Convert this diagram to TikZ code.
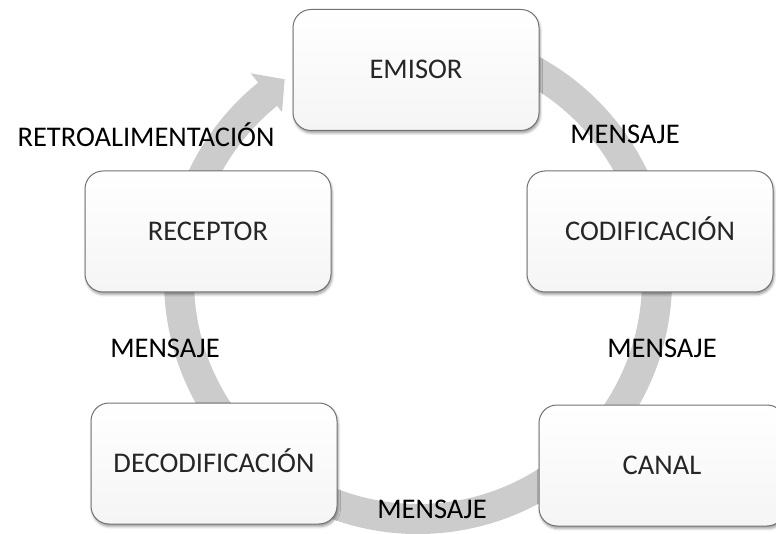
\documentclass[tikz,border=0pt]{standalone}
\usepackage{fontspec}
\setmainfont{Carlito}
\usetikzlibrary{shadows.blur}
\begin{document}
\begin{tikzpicture}[x=1pt,y=1pt,
  ring/.style={fill=black!20},
  stage/.style={rounded corners=18pt, draw=black!55, line width=1pt,
    top color=white, bottom color=black!4,
    minimum width=246pt, minimum height=121pt, text=black!85,
    font=\fontsize{28.5}{32}\selectfont, text height=17.5pt, text depth=0pt,
    blur shadow={shadow xshift=1pt, shadow yshift=-2.5pt, shadow blur radius=2.5pt, shadow opacity=40}},
  lbl/.style={font=\fontsize{28.5}{32}\selectfont, anchor=base, inner sep=0pt, text=black}]
\useasboundingbox (0,0) rectangle (776,533);
\clip (0,0) rectangle (776,533);
% circular arrow
\fill[ring, shift={(418,253)}] (100:254) arc[start angle=100, end angle=-231, radius=254]
  -- (-231:266) -- (-236.4:241) -- (-231:216) -- (-231:224)
  arc[start angle=-231, end angle=100, radius=224] -- cycle;
% stages
\node[stage] (emisor) at (416,463) {EMISOR};
\node[stage] (codif) at (650,301.5) {CODIFICACIÓN};
\node[stage] (canal) at (662,67.5) {CANAL};
\node[stage] (decod) at (214,69.5) {DECODIFICACIÓN};
\node[stage] (receptor) at (208,301.5) {RECEPTOR};
% labels
\node[lbl] (retro) at (146,386.5) {RETROALIMENTACIÓN};
\node[lbl] (m1) at (625,389) {MENSAJE};
\node[lbl] (m2) at (662,175) {MENSAJE};
\node[lbl] (m3) at (432,15) {MENSAJE};
\node[lbl] (m4) at (165,175) {MENSAJE};
\end{tikzpicture}
\end{document}
